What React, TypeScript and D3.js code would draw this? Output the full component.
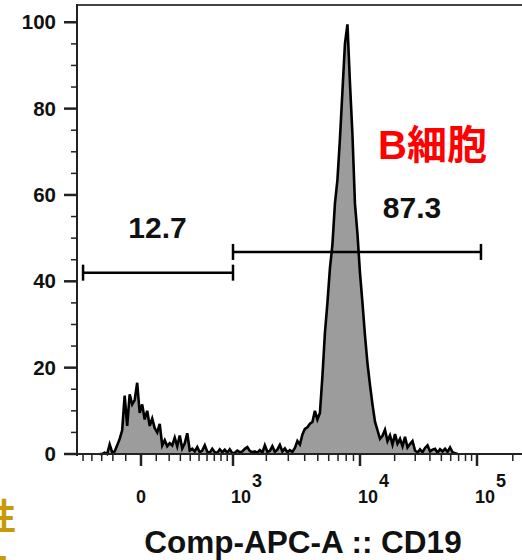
import React, { useEffect, useRef } from 'react';
import * as d3 from 'd3';

// histogram counts (% of max), bins uniform in display space between histStart..histEnd
const histStart = -320;
const histEnd = 72000;
const counts = [
  0, 0, 0.3, 0, 2.2, 0.4, 0.6, 2, 3.5, 5.5,
  13.5, 6.5, 13.8, 11.5, 12.5, 16.5, 9.5, 11.5, 8, 10,
  6.5, 8.2, 6, 5, 7, 2, 3.2, 1.8, 2.5, 2,
  3.8, 1.8, 4.3, 1.3, 2.5, 4.8, 0.8, 1.2, 0.6, 1.6,
  0.4, 0.8, 2, 0.5, 0.3, 1.2, 0.4, 0.3, 1.1, 0.4,
  1.0, 0.3, 1.1, 0.2, 0.3, 0.8, 0.4, 0.6, 1.2, 1.6,
  0.7, 0.4, 0.6, 0.3, 0.9, 0.3, 2, 0.5, 0.7, 1.8,
  0.5, 1.0, 2.1, 0.6, 1.3, 0.4, 0.9, 0.5, 1.4, 3.0,
  2.2, 4.5, 5.8, 6.2, 7, 7.4, 10, 8, 9.5, 18,
  28, 35, 43, 48.5, 58, 63.5, 73, 84, 95, 99.5,
  86, 74, 58, 51, 42, 35, 27.5, 21, 16, 11.5,
  7.5, 5.5, 3.5, 4.2, 5.6, 3, 4.3, 2.2, 4.6, 2.4,
  3.5, 1.8, 4, 1.5, 2.3, 3, 0.8, 0.3, 1.1, 0.4,
  1.4, 2, 0.6, 1.0, 1.2, 0.3, 1.1, 0.6, 1.2, 0.5,
  1.5, 0.4, 0.2, 0,
];

const yMajor = [0, 20, 40, 60, 80, 100];
const yMinor = [5, 10, 15, 25, 30, 35, 45, 50, 55, 65, 70, 75, 85, 90, 95];

const xMajor = [0, 1000, 10000, 100000];
const xMajorLabels = [['0', ''], ['10', '3'], ['10', '4'], ['10', '5']];
const xMinor = [
  -500, -400, -300, -200, -100,
  100, 200, 300, 400, 500, 600, 700, 800, 900,
  2000, 3000, 4000, 5000, 6000, 7000, 8000, 9000,
  20000, 30000, 40000, 50000, 60000, 70000, 80000, 90000,
  200000,
];

const gates = [
  { from: -500, to: 1000, level: 42, label: '12.7', labelAt: 109, labelLevel: 50 },
  { from: 1000, to: 108000, level: 46.8, label: '87.3', labelAt: 28150, labelLevel: 54.7 },
];

const App: React.FC = () => {
  const svgRef = useRef<SVGSVGElement>(null);

  useEffect(() => {
    if (!svgRef.current) return;
    const svg = d3.select(svgRef.current);
    svg.selectAll('*').remove();

    const width = 522;
    const height = 560;
    const left = 77;
    const font = '"Liberation Sans", Arial, sans-serif';

    // biexponential-like axis: symlog, pinned at 0 and the decades
    const x = d3.scaleSymlog()
      .constant(500)
      .domain([-575, 0, 1000, 10000, 100000])
      .range([77, 141, 233, 360, 477]);

    const y = d3.scaleLinear().domain([0, 104]).range([454, 5]);

    const bin = d3.scaleLinear()
      .domain([0, counts.length])
      .range([x(histStart), x(histEnd)]);

    // histogram
    const area = d3.area<number>()
      .x((_, i) => bin(i))
      .y0(y(0))
      .y1(d => y(d));
    const line = d3.line<number>()
      .x((_, i) => bin(i))
      .y(d => y(d));

    svg.append('path')
      .datum(counts)
      .attr('d', area)
      .attr('fill', '#9c9c9c');
    svg.append('path')
      .datum(counts)
      .attr('d', line)
      .attr('fill', 'none')
      .attr('stroke', '#000')
      .attr('stroke-width', 2.6)
      .attr('stroke-linejoin', 'miter');

    // frame
    svg.append('line')
      .attr('x1', left).attr('x2', width)
      .attr('y1', 5).attr('y2', 5)
      .attr('stroke', '#444').attr('stroke-width', 2);
    svg.append('line')
      .attr('x1', left).attr('x2', left)
      .attr('y1', 4).attr('y2', y(0) + 2)
      .attr('stroke', '#222').attr('stroke-width', 2);
    svg.append('line')
      .attr('x1', left - 13).attr('x2', width)
      .attr('y1', y(0)).attr('y2', y(0))
      .attr('stroke', '#222').attr('stroke-width', 2);

    // y ticks
    svg.selectAll('.ymaj').data(yMajor).enter().append('line')
      .attr('x1', left - 13).attr('x2', left)
      .attr('y1', d => y(d)).attr('y2', d => y(d))
      .attr('stroke', '#222').attr('stroke-width', 2.5);
    svg.selectAll('.ymin').data(yMinor).enter().append('line')
      .attr('x1', left - 6).attr('x2', left)
      .attr('y1', d => y(d)).attr('y2', d => y(d))
      .attr('stroke', '#222').attr('stroke-width', 1.5);
    svg.selectAll('.ylab').data(yMajor).enter().append('text')
      .attr('x', 56)
      .attr('y', d => y(d) + 7)
      .attr('text-anchor', 'end')
      .attr('font-family', font)
      .attr('font-weight', 'bold')
      .attr('font-size', 20.5)
      .attr('fill', '#111')
      .text(d => d);

    // x ticks
    svg.selectAll('.xmaj').data(xMajor).enter().append('line')
      .attr('x1', d => x(d)).attr('x2', d => x(d))
      .attr('y1', y(0)).attr('y2', y(0) + 12)
      .attr('stroke', '#222').attr('stroke-width', 2.5);
    svg.selectAll('.xmin').data(xMinor).enter().append('line')
      .attr('x1', d => x(d)).attr('x2', d => x(d))
      .attr('y1', y(0)).attr('y2', y(0) + 7)
      .attr('stroke', '#222').attr('stroke-width', 1.5);

    const xl = svg.selectAll('.xlab').data(xMajor).enter().append('text')
      .attr('x', (d, i) => (i === 0 ? x(d) : x(d) - 2))
      .attr('y', 503)
      .attr('text-anchor', (_, i) => (i === 0 ? 'middle' : 'start'))
      .attr('font-family', font)
      .attr('font-weight', 'bold')
      .attr('font-size', 18)
      .attr('fill', '#111');
    xl.append('tspan').text((_, i) => xMajorLabels[i][0]);
    xl.append('tspan')
      .attr('dx', 1)
      .attr('dy', -16)
      .attr('font-size', 18)
      .text((_, i) => xMajorLabels[i][1]);

    svg.append('text')
      .attr('x', 303)
      .attr('y', 553)
      .attr('text-anchor', 'middle')
      .attr('font-family', font)
      .attr('font-weight', 'bold')
      .attr('font-size', 31.5)
      .attr('fill', '#111')
      .text('Comp-APC-A :: CD19');

    // gates
    gates.forEach(g => {
      const gy = y(g.level);
      svg.append('line')
        .attr('x1', x(g.from)).attr('x2', x(g.to))
        .attr('y1', gy).attr('y2', gy)
        .attr('stroke', '#000').attr('stroke-width', 2.5);
      [g.from, g.to].forEach(v => {
        svg.append('line')
          .attr('x1', x(v)).attr('x2', x(v))
          .attr('y1', gy - 8).attr('y2', gy + 8)
          .attr('stroke', '#000').attr('stroke-width', 2.5);
      });
      svg.append('text')
        .attr('x', x(g.labelAt))
        .attr('y', y(g.labelLevel))
        .attr('text-anchor', 'middle')
        .attr('font-family', font)
        .attr('font-weight', 'bold')
        .attr('font-size', 30)
        .attr('fill', '#111')
        .text(g.label);
    });

    // annotation
    svg.append('text')
      .attr('x', 378)
      .attr('y', 159)
      .attr('font-family', '"Liberation Sans", "Noto Sans CJK JP", sans-serif')
      .attr('font-weight', 'bold')
      .attr('font-size', 40)
      .attr('fill', '#ff0000')
      .text('B細胞');

    // cropped neighbouring text at the lower left
    svg.append('text')
      .attr('x', 16)
      .attr('y', 530)
      .attr('text-anchor', 'end')
      .attr('font-family', '"Noto Sans CJK JP", sans-serif')
      .attr('font-weight', 'bold')
      .attr('font-size', 36)
      .attr('fill', '#c99a06')
      .text('性');
    svg.append('text')
      .attr('x', 8)
      .attr('y', 585)
      .attr('text-anchor', 'end')
      .attr('font-family', '"Noto Sans CJK JP", sans-serif')
      .attr('font-weight', 'bold')
      .attr('font-size', 36)
      .attr('fill', '#c99a06')
      .text('細');

    svg.attr('width', width).attr('height', height);
  }, []);

  return (
    <svg
      ref={svgRef}
      width={522}
      height={560}
      style={{ position: 'absolute', left: 0, top: 0, background: '#fff' }}
    />
  );
};

export default App;
